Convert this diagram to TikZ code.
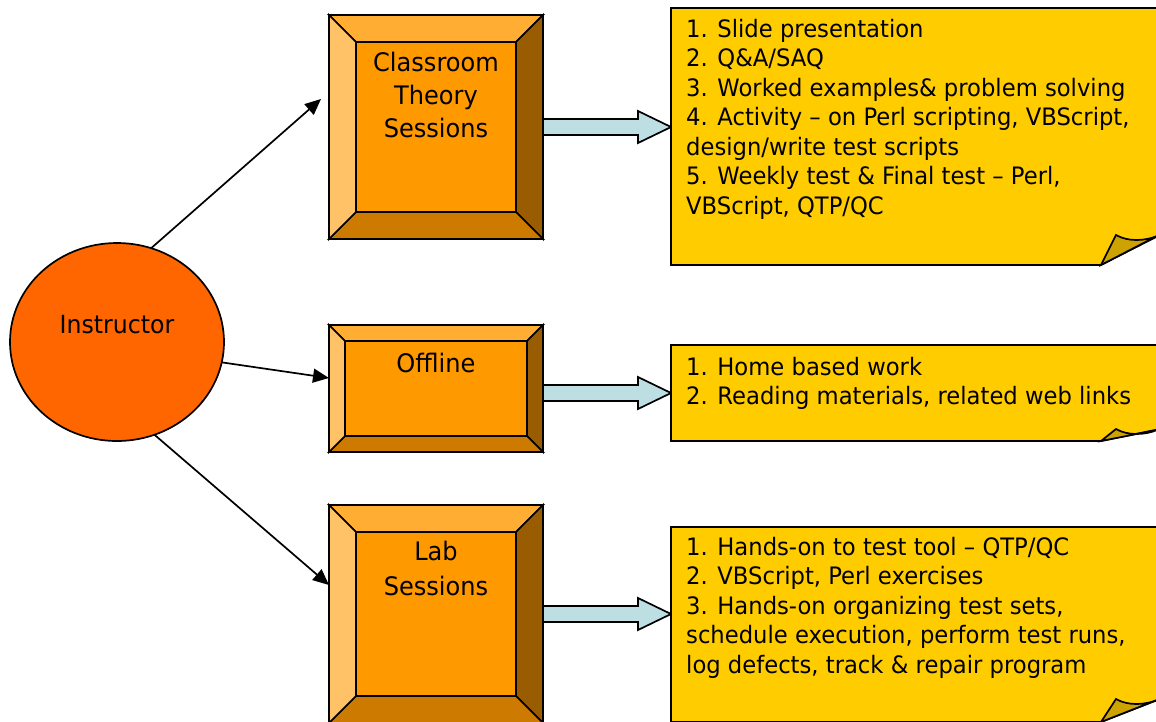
\documentclass[tikz,border=0pt]{standalone}
\usepackage{fontspec}
\setmainfont{DejaVu Sans}[FakeStretch=0.945]
\usetikzlibrary{calc,arrows.meta,shapes.geometric}
\definecolor{ellc}{HTML}{FF6600}
\definecolor{bxmid}{HTML}{FF9900}
\definecolor{bxtop}{HTML}{FFAD33}
\definecolor{bxlft}{HTML}{FFC266}
\definecolor{bxbot}{HTML}{CC7A00}
\definecolor{bxrgt}{HTML}{995C00}
\definecolor{notec}{HTML}{FFCC00}
\definecolor{foldc}{HTML}{CCA300}
\definecolor{barc}{HTML}{BDDFE3}
\newcommand\bevbox[2]{%
  \path (#1.north west) coordinate (#1-a) (#1.north east) coordinate (#1-b)
        (#1.south east) coordinate (#1-c) (#1.south west) coordinate (#1-d);
  \path ($(#1-a)+(#2,#2)$) coordinate (#1-A) ($(#1-b)+(-#2,#2)$) coordinate (#1-B)
        ($(#1-c)+(-#2,-#2)$) coordinate (#1-C) ($(#1-d)+(#2,-#2)$) coordinate (#1-D);
  \filldraw[bvl, fill=bxtop] (#1-a) -- (#1-b) -- (#1-B) -- (#1-A) -- cycle;
  \filldraw[bvl, fill=bxrgt] (#1-b) -- (#1-c) -- (#1-C) -- (#1-B) -- cycle;
  \filldraw[bvl, fill=bxbot] (#1-c) -- (#1-d) -- (#1-D) -- (#1-C) -- cycle;
  \filldraw[bvl, fill=bxlft] (#1-d) -- (#1-a) -- (#1-A) -- (#1-D) -- cycle;
  \filldraw[bvl, fill=bxmid] (#1-A) -- (#1-B) -- (#1-C) -- (#1-D) -- cycle;
}
\newcommand\notedraw[2]{%
  \filldraw[bvl, fill=notec] (#1.north west) -- (#1.north east) -- ($(#1.south east)+(0,-#2)$)
     -- ($(#1.south east)+(-59,0)$) -- (#1.south west) -- cycle;
  \filldraw[bvl, fill=foldc] ($(#1.south east)+(-59,0)$) -- ($(#1.south east)+(-44,-#2)$)
     .. controls ($(#1.south east)+(-32,-#2+7)$) and ($(#1.south east)+(-15,-#2+6)$) .. ($(#1.south east)+(-3,-#2+1)$)
     -- cycle;
}
\newcommand\barrow[2]{%
  \filldraw[bvl, fill=barc] ($(#1)+(0,-8)$) -- ($(#2)+(-33,-8)$) -- ($(#2)+(-33,-16)$) -- (#2)
     -- ($(#2)+(-33,16)$) -- ($(#2)+(-33,8)$) -- ($(#1)+(0,8)$) -- cycle;
}
\begin{document}
\begin{tikzpicture}[x=1pt,y=-1pt,
  bvl/.style={draw=black, line width=1.7pt, line join=miter},
  shell/.style={inner sep=0pt, outer sep=0pt, draw=none},
  ellnode/.style={ellipse, shell, draw=black, fill=ellc, line width=1.7pt, minimum width=214, minimum height=198},
  boxtxt/.style={inner sep=0pt, align=center, font=\fontsize{25.5}{33}\selectfont},
  notetxt/.style={inner sep=0pt, align=left, font=\fontsize{24}{29.5}\selectfont},
  conn/.style={draw=black, line width=1.7pt, -{Triangle[length=16pt,width=14pt]}}
]
\useasboundingbox (0,0) rectangle (1156,721);
\clip (0,0) rectangle (1156,721);

% notes (invisible frames)
\node[shell, minimum width=489, minimum height=257] (n1) at (915.5,136.5) {};
\node[shell, minimum width=489, minimum height=96] (n2) at (915.5,393) {};
\node[shell, minimum width=489, minimum height=195] (n3) at (915.5,624.5) {};

% boxes (invisible frames)
\node[shell, minimum width=214, minimum height=224] (cls) at (436,127) {};
\node[shell, minimum width=214, minimum height=127] (off) at (436,388.5) {};
\node[shell, minimum width=214, minimum height=218] (lab) at (436,614) {};

\coordinate (e1) at (cls.east -| n1.west);
\coordinate (s2) at (n2.west -| off.east);
\coordinate (e3) at (lab.east -| n3.west);

\barrow{cls.east}{e1}
\barrow{s2}{n2.west}
\barrow{lab.east}{e3}

\notedraw{n1}{30}
\notedraw{n2}{12}
\notedraw{n3}{23}

\bevbox{cls}{27}
\bevbox{off}{16}
\bevbox{lab}{27}

% anchor=base of a multi-line node = baseline of its last line
\node[boxtxt, anchor=base] (clst) at ($(cls.north)+(0,122)$) {Classroom\\Theory\\Sessions};
\node[boxtxt, anchor=base] (offt) at ($(off.north)+(0,47)$) {Offline};
\node[boxtxt, anchor=base, font=\fontsize{25.5}{35}\selectfont] (labt) at ($(lab.north)+(0,90)$) {Lab\\Sessions};

\node[notetxt, anchor=base west] (n1t) at (686,214) {1. Slide presentation\\2. Q\&A/SAQ\\3. Worked examples\& problem solving\\4. Activity – on Perl scripting, VBScript,\\design/write test scripts\\5. Weekly test \& Final test – Perl,\\VBScript, QTP/QC};
\node[notetxt, anchor=base west] (n2t) at (686,404.5) {1. Home based work\\2. Reading materials, related web links};
\node[notetxt, anchor=base west] (n3t) at (686,673) {1. Hands-on to test tool – QTP/QC\\2. VBScript, Perl exercises\\3. Hands-on organizing test sets,\\schedule execution, perform test runs,\\log defects, track \& repair program};

% instructor
\node[ellnode] (ins) at (117,342) {};
\node[inner sep=0pt, anchor=base, font=\fontsize{25}{30}\selectfont] (inst) at (117,333) {Instructor};

\draw[conn] (ins.70) -- ($(cls.north west)+(-8,84)$);
\draw[conn] (ins.-11) -- ($(off.north west)+(0,53)$);
\draw[conn] (ins.-68) -- ($(lab.north west)+(0,80)$);
\end{tikzpicture}
\end{document}
